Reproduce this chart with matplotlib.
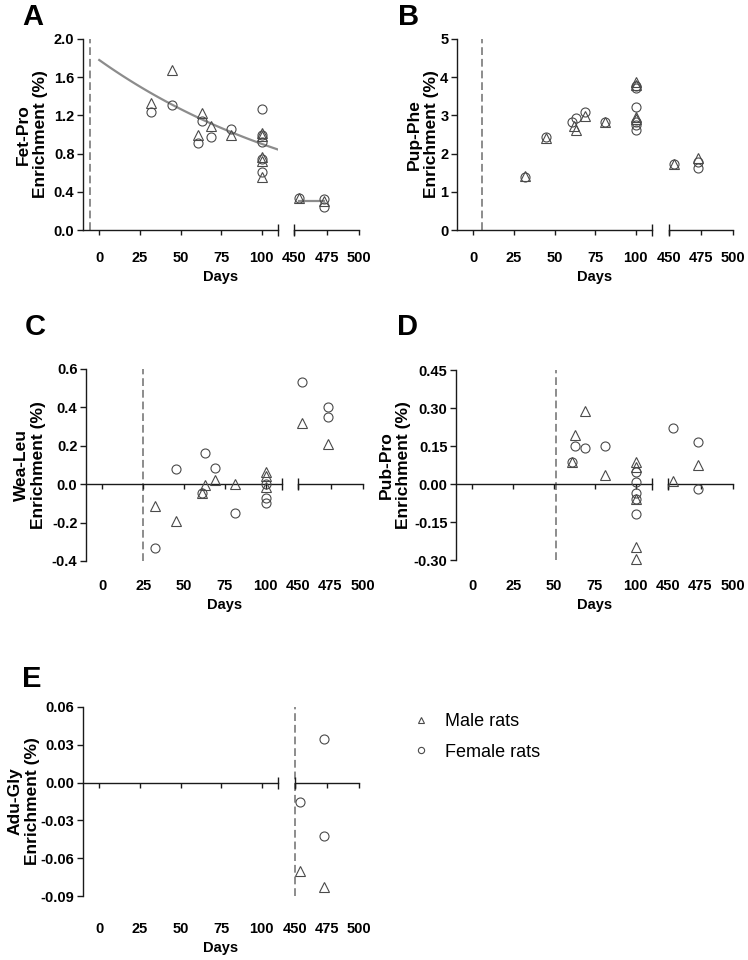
import numpy as np
import matplotlib
matplotlib.use('Agg')
from matplotlib import pyplot as plt
from matplotlib.lines import Line2D
import matplotlib.transforms as mtransforms

plt.rcParams['font.family'] = ['Liberation Sans', 'DejaVu Sans']

# ---- data ----
# A: Fet-Pro
a_male_days = [32, 45, 61, 63, 69, 81, 100, 100, 100, 100, 100, 454, 473]
a_male_vals = [1.33, 1.68, 0.99, 1.23, 1.09, 1.00, 1.02, 0.98, 0.76, 0.72, 0.55, 0.33, 0.30]
a_female_days = [32, 45, 61, 63, 69, 81, 100, 100, 100, 100, 100, 454, 473, 473]
a_female_vals = [1.24, 1.31, 0.91, 1.14, 0.97, 1.06, 1.27, 0.99, 0.92, 0.74, 0.61, 0.33, 0.32, 0.24]
a_fit_y0 = 1.78      # one-phase decay fit, value at day 0
a_fit_k = 0.0068     # decay rate per day
a_fit_days = [0, 110]
a_mean_days = [454, 473]
a_mean_val = 0.30

# B: Pup-Phe
b_male_days = [32, 45, 62, 63, 69, 81, 100, 100, 100, 100, 454, 473]
b_male_vals = [1.42, 2.40, 2.71, 2.62, 2.98, 2.83, 3.87, 3.80, 2.97, 2.90, 1.73, 1.88]
b_female_days = [32, 45, 61, 63, 69, 81, 100, 100, 100, 100, 100, 100, 454, 473, 473]
b_female_vals = [1.40, 2.43, 2.84, 2.93, 3.10, 2.84, 3.78, 3.72, 3.22, 2.82, 2.75, 2.62, 1.72, 1.77, 1.62]

# C: Wea-Leu
c_male_days = [32, 45, 61, 63, 69, 81, 100, 100, 100, 453, 473]
c_male_vals = [-0.115, -0.19, -0.045, -0.005, 0.02, 0.0, 0.065, 0.045, -0.015, 0.32, 0.21]
c_female_days = [32, 45, 61, 63, 69, 81, 100, 100, 100, 453, 473, 473]
c_female_vals = [-0.33, 0.08, -0.045, 0.16, 0.085, -0.15, 0.0, -0.07, -0.10, 0.53, 0.40, 0.35]

# D: Pub-Pro
d_male_days = [61, 63, 69, 81, 100, 100, 100, 100, 100, 454, 473]
d_male_vals = [0.088, 0.195, 0.29, 0.035, 0.085, 0.068, -0.06, -0.25, -0.295, 0.01, 0.075]
d_female_days = [61, 63, 69, 81, 100, 100, 100, 100, 100, 454, 473, 473]
d_female_vals = [0.088, 0.15, 0.143, 0.15, 0.046, 0.009, -0.037, -0.06, -0.12, 0.22, 0.165, -0.021]

# E: Adu-Gly
e_male_days = [454, 473]
e_male_vals = [-0.070, -0.083]
e_female_days = [454, 473, 473]
e_female_vals = [-0.015, 0.035, -0.042]

left_ticks = [0, 25, 50, 75, 100]
right_ticks = [450, 475, 500]
start_days = {'A': -6, 'B': 5.5, 'C': 25, 'D': 51.5, 'E': 450}

W, H = 748, 960
EDGE = '#4a4a4a'
AXC = '#1a1a1a'
GREY = '#8c8c8c'


def box(x0, y0, x1, y1):
    return [x0 / W, 1 - y1 / H, (x1 - x0) / W, (y1 - y0) / H]


def split(days, vals, lo, hi):
    d = np.asarray(days, dtype=float)
    v = np.asarray(vals, dtype=float)
    keep = (d >= lo) & (d <= hi)
    return d[keep], v[keep]


fig = plt.figure(figsize=(W / 100, H / 100), dpi=100)


def panel(letter, ylabel, lbox, rbox, ylim, yticks, yfmt, male, female,
          tick_pad, ylab_x, days_y, letter_y):
    axl = fig.add_axes(box(*lbox))
    axr = fig.add_axes(box(*rbox))
    for ax, xlim, ticks in ((axl, (-10, 110), left_ticks), (axr, (450, 500), right_ticks)):
        ax.set_xlim(*xlim)
        ax.set_ylim(*ylim)
        ax.patch.set_alpha(0)
        for s in ('top', 'right'):
            ax.spines[s].set_visible(False)
        ax.spines['bottom'].set_position(('data', 0))
        ax.spines['bottom'].set_color(AXC)
        ax.spines['bottom'].set_linewidth(1.0)
        ax.set_xticks(ticks)
        ax.tick_params(axis='x', direction='out', length=3.6, width=1.0,
                       color=AXC, labelbottom=False)
        # break marks at the segment ends
        tr = mtransforms.blended_transform_factory(ax.transAxes, ax.transData)
        ax.plot([0 if ax is axr else 1], [0], marker='|', ms=8, mew=1.0,
                color=AXC, transform=tr, clip_on=False)
        sec = ax.secondary_xaxis('bottom')
        sec.set_xticks(ticks)
        sec.set_xticklabels([str(t) for t in ticks])
        sec.tick_params(length=0, pad=tick_pad, labelsize=10.5)
        for lab in sec.get_xticklabels():
            lab.set_fontweight('bold')
        sec.spines['bottom'].set_visible(False)

        md, mv = split(male[0], male[1], *xlim)
        fd, fv = split(female[0], female[1], *xlim)
        ax.plot(md, mv, ls='none', marker='^', ms=6.5, mfc='none',
                mec=EDGE, mew=0.8, clip_on=False, zorder=3)
        ax.plot(fd, fv, ls='none', marker='o', ms=6.5, mfc='none',
                mec=EDGE, mew=0.8, clip_on=False, zorder=3)

    axl.spines['left'].set_color(AXC)
    axl.spines['left'].set_linewidth(1.0)
    axl.set_yticks(yticks)
    axl.set_yticklabels([yfmt.format(v) for v in yticks], fontsize=10.5, fontweight='bold')
    axl.tick_params(axis='y', direction='out', length=4.2, width=1.0, color=AXC, pad=2)
    axr.spines['left'].set_visible(False)
    axr.set_yticks([])

    # treatment start line
    sd = start_days[letter]
    target = axr if sd >= 450 else axl
    target.axvline(sd, color=GREY, lw=1.4, ls=(0, (4, 2)), clip_on=False, zorder=1)

    cx = (lbox[0] + rbox[2]) / 2
    fig.text(cx / W, 1 - days_y / H, 'Days', ha='center', va='center',
             fontsize=10.5, fontweight='bold')
    fig.text(ylab_x / W, 1 - (lbox[1] + lbox[3]) / 2 / H, ylabel + '\nEnrichment (%)',
             rotation=90, ha='center', va='center', fontsize=12.5, fontweight='bold',
             linespacing=1.2, multialignment='center')
    fig.text((lbox[0] - 61 if letter in 'ACE' else lbox[0] - 59) / W, 1 - letter_y / H,
             letter, ha='left', va='center', fontsize=21, fontweight='bold')
    return axl, axr


axl, axr = panel('A', 'Fet-Pro', (83, 39, 278, 230), (294, 39, 359, 230), (0, 2.0),
                 [0.0, 0.4, 0.8, 1.2, 1.6, 2.0], '{:.1f}',
                 (a_male_days, a_male_vals), (a_female_days, a_female_vals),
                 15, 32, 277, 17)
fit_x = np.linspace(a_fit_days[0], a_fit_days[1], 100)
axl.plot(fit_x, a_fit_y0 * np.exp(-a_fit_k * fit_x), color=GREY, lw=1.6, zorder=2)
axr.plot(a_mean_days, [a_mean_val, a_mean_val], color=GREY, lw=1.6, zorder=2)

panel('B', 'Pup-Phe', (457, 39, 652, 230), (669, 39, 733, 230), (0, 5),
      [0, 1, 2, 3, 4, 5], '{:d}',
      (b_male_days, b_male_vals), (b_female_days, b_female_vals),
      15, 423, 277, 17)

panel('C', 'Wea-Leu', (86, 369, 282, 561), (298, 369, 363, 561), (-0.4, 0.6),
      [-0.4, -0.2, 0.0, 0.2, 0.4, 0.6], '{:.1f}',
      (c_male_days, c_male_vals), (c_female_days, c_female_vals),
      13, 30, 605, 327)

panel('D', 'Pub-Pro', (456, 370, 652, 560), (668, 370, 733, 560), (-0.30, 0.45),
      [-0.30, -0.15, 0.0, 0.15, 0.30, 0.45], '{:.2f}',
      (d_male_days, d_male_vals), (d_female_days, d_female_vals),
      13.5, 395, 605, 327)

panel('E', 'Adu-Gly', (83, 707, 278, 896), (295, 707, 359, 896), (-0.09, 0.06),
      [-0.09, -0.06, -0.03, 0.0, 0.03, 0.06], '{:.2f}',
      (e_male_days, e_male_vals), (e_female_days, e_female_vals),
      19, 24, 948, 679)

handles = [Line2D([], [], ls='none', marker='^', ms=4.5, mfc='none', mec=EDGE, mew=0.8),
           Line2D([], [], ls='none', marker='o', ms=4.5, mfc='none', mec=EDGE, mew=0.8)]
fig.legend(handles, ['Male rats', 'Female rats'], loc='upper left',
           bbox_to_anchor=(412 / W, 1 - 713 / H), frameon=False, fontsize=13,
           handlelength=1.0, handletextpad=0.85, labelspacing=0.75, borderpad=0,
           borderaxespad=0)

fig.savefig('out.png', dpi=100)
